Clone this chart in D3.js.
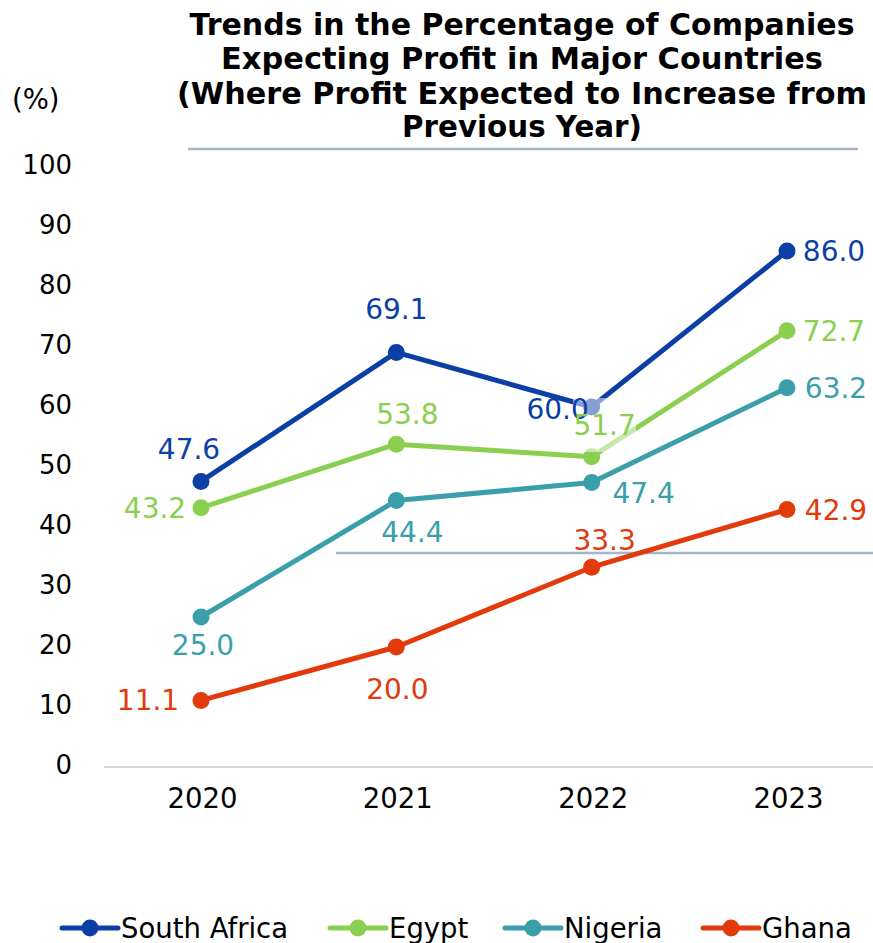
<!DOCTYPE html>
<html><head><meta charset="utf-8">
<script src="https://cdn.jsdelivr.net/npm/d3@7"></script>
<style>body{margin:0;background:#fff}svg{display:block}text{font-family:"DejaVu Sans",Verdana,sans-serif}</style>
</head><body>
<svg id="c" width="873" height="943"></svg>
<script>
const years = ["2020","2021","2022","2023"];
const seriesNames = ["South Africa","Egypt","Nigeria","Ghana"];
const southAfrica = [47.6, 69.1, 60.0, 86.0];
const egypt = [43.2, 53.8, 51.7, 72.7];
const nigeria = [25.0, 44.4, 47.4, 63.2];
const ghana = [11.1, 20.0, 33.3, 42.9];
const yTicks = [0,10,20,30,40,50,60,70,80,90,100];
const titleLines = ["Trends in the Percentage of Companies","Expecting Profit in Major Countries","(Where Profit Expected to Increase from","Previous Year)"];

const colors = ["#0b3fa5","#8acf4f","#3a9fab","#e23a0b"];
const allValues = [southAfrica, egypt, nigeria, ghana];
// label offsets [dx, dy] of label center from point
const labelOffsets = [
  [[-12,-32],[0,-43],[-34,2],[47,0]],
  [[-46,0],[11,-30],[13,-32],[47,0]],
  [[2,28],[16,31],[52,10],[49,0]],
  [[-53,0],[1,42],[13,-27],[49,0]]
];

const svg = d3.select("#c");
const x = d3.scalePoint().domain(years).range([201,787]);
const y = d3.scaleLinear().domain([0,100]).range([767,167]);

// title
const titleW = [665,602,690,240];
const titleBase = [35,69,104,137];
titleLines.forEach((t,i)=>{
  svg.append("text").attr("x",522).attr("y",titleBase[i]).attr("text-anchor","middle")
    .attr("font-size",30).attr("font-weight","bold").attr("fill","#000")
    .attr("textLength",titleW[i]).attr("lengthAdjust","spacingAndGlyphs").text(t);
});
svg.append("line").attr("x1",188).attr("x2",858).attr("y1",149).attr("y2",149)
  .attr("stroke","#a7b5c8").attr("stroke-width",2.5);

svg.append("text").attr("x",12).attr("y",109).attr("font-size",27.5).attr("fill","#000").text("(%)");

// y axis
const yAxis = d3.axisLeft(y).tickValues(yTicks).tickSize(0).tickPadding(0);
const gy = svg.append("g").attr("transform","translate(72,0)").call(yAxis);
gy.select(".domain").remove();
gy.selectAll("text").attr("font-size",26).attr("fill","#000").attr("font-family","DejaVu Sans").attr("dy","0.25em");

// x axis
const xAxis = d3.axisBottom(x).tickSize(0).tickPadding(0);
const gx = svg.append("g").attr("transform","translate(1,767)").call(xAxis);
gx.select(".domain").remove();
gx.selectAll("text").attr("font-size",27.5).attr("fill","#000").attr("font-family","DejaVu Sans").attr("dy","1.48em");
svg.append("line").attr("x1",104).attr("x2",873).attr("y1",767).attr("y2",767).attr("stroke","#d9d9d9").attr("stroke-width",2);

// stray line
svg.append("line").attr("x1",336).attr("x2",873).attr("y1",553).attr("y2",553)
  .attr("stroke","#a7b5c8").attr("stroke-width",2.5);

const line = d3.line().x((d,i)=>x(years[i])).y(d=>y(d));
allValues.forEach((vals,s)=>{
  svg.append("path").datum(vals).attr("d",line).attr("fill","none")
    .attr("stroke",colors[s]).attr("stroke-width",5).attr("stroke-linejoin","round");
  svg.selectAll(null).data(vals).enter().append("circle")
    .attr("cx",(d,i)=>x(years[i])).attr("cy",d=>y(d)).attr("r",8.5).attr("fill",colors[s]);
});

// semi-transparent background of 51.7 label
svg.append("rect").attr("x",573).attr("y",398).attr("width",63).attr("height",54)
  .attr("fill","#fff").attr("fill-opacity",0.5);

allValues.forEach((vals,s)=>{
  vals.forEach((v,i)=>{
    const o = labelOffsets[s][i];
    svg.append("text").attr("x",x(years[i])+o[0]).attr("y",y(v)+o[1]).attr("dy","0.36em")
      .attr("text-anchor","middle").attr("font-size",28).attr("fill",colors[s]).text(v.toFixed(1));
  });
});

// legend
const legX = [62,330,505,703];
seriesNames.forEach((n,s)=>{
  const g = svg.append("g").attr("transform",`translate(${legX[s]},928)`);
  g.append("line").attr("x1",0).attr("x2",56).attr("stroke",colors[s]).attr("stroke-width",5).attr("stroke-linecap","round");
  g.append("circle").attr("cx",28).attr("r",8.5).attr("fill",colors[s]);
  g.append("text").attr("x",59).attr("dy","0.36em").attr("font-size",27.5).attr("fill","#000").text(n);
});
</script>
</body></html>
